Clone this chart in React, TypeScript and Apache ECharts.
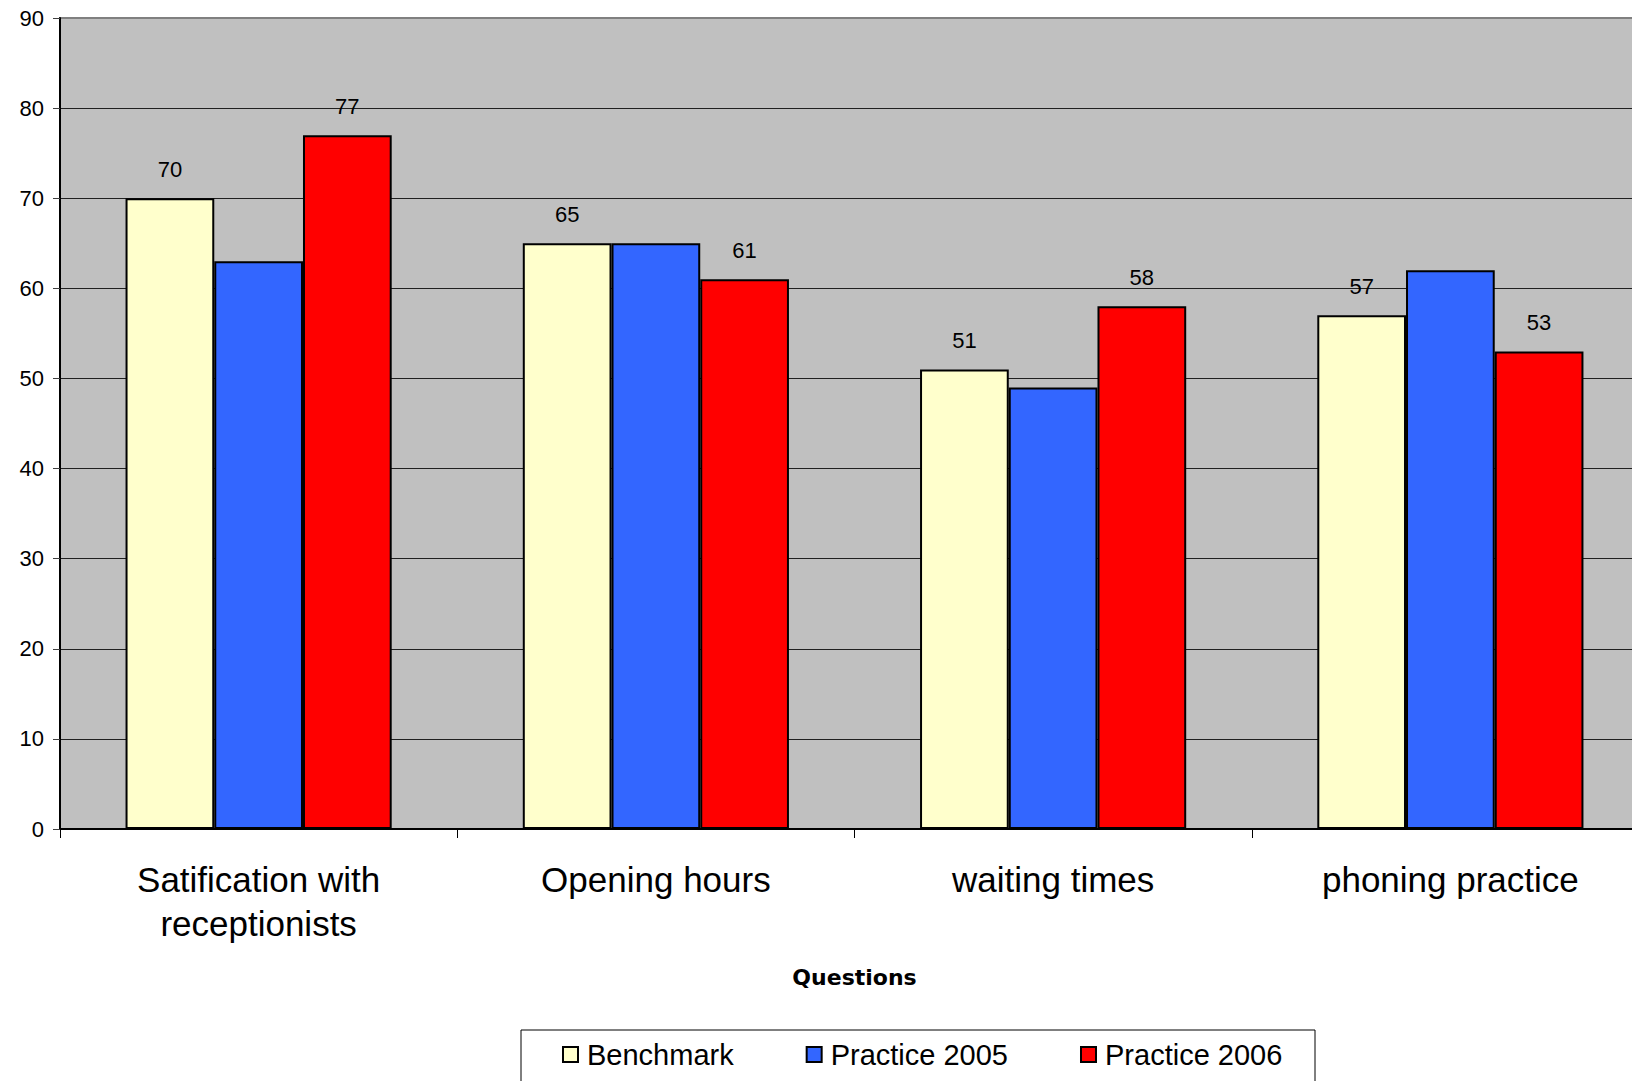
import React, { useEffect, useRef } from "react";
import * as echarts from "echarts";

const categories = ["Satification with\nreceptionists", "Opening hours", "waiting times", "phoning practice"];
const benchmark = [70, 65, 51, 57];
const practice2005 = [63, 65, 49, 62];
const practice2006 = [77, 61, 58, 53];
const seriesNames = ["Benchmark", "Practice 2005", "Practice 2006"];
const seriesColors = ["#FFFFCC", "#3366FF", "#FF0000"];
const yTicks = { min: 0, max: 90, interval: 10 };
const xAxisTitle = "Questions";

const FONT = "'Liberation Sans', Arial, sans-serif";

export default function App() {
  const ref = useRef<HTMLDivElement>(null);
  useEffect(() => {
    if (!ref.current) return;
    const chart = echarts.init(ref.current, null, { renderer: "svg" });
    const dataSets = [benchmark, practice2005, practice2006];
    const showLabel = [true, false, true];
    chart.setOption({
      animation: false,
      textStyle: { fontFamily: FONT },
      grid: {
        left: 60,
        top: 18,
        right: 0,
        bottom: 252,
        show: true,
        backgroundColor: "#C0C0C0",
        borderColor: "#808080",
        borderWidth: 2,
      },
      legend: {
        left: 557,
        top: 1035,
        itemWidth: 15,
        itemHeight: 15,
        itemGap: 72,
        icon: "rect",
        textStyle: { fontSize: 29, color: "#000", fontFamily: FONT, padding: [0, 0, 0, 4] },
        data: seriesNames,
      },
      graphic: [
        {
          type: "rect",
          shape: { x: 521, y: 1030, width: 794, height: 80 },
          style: { fill: "none", stroke: "#000", lineWidth: 1 },
          z: 0,
        },
      ],
      xAxis: {
        type: "category",
        data: categories,
        name: xAxisTitle,
        nameLocation: "middle",
        nameGap: 137,
        nameTextStyle: { fontSize: 22, fontWeight: "bold", color: "#000", fontFamily: "'DejaVu Sans', Verdana, sans-serif" },
        axisLine: { lineStyle: { color: "#000", width: 2 } },
        axisTick: { show: true, alignWithLabel: false, length: 9, lineStyle: { color: "#000", width: 1 } },
        axisLabel: {
          fontSize: 35,
          color: "#000",
          margin: 28,
          lineHeight: 44,
          interval: 0,
          fontFamily: FONT,
        },
      },
      yAxis: {
        type: "value",
        min: yTicks.min,
        max: yTicks.max,
        interval: yTicks.interval,
        axisLine: { show: true, lineStyle: { color: "#000", width: 2 } },
        axisTick: { show: true, length: 7, lineStyle: { color: "#404040", width: 1 } },
        axisLabel: { fontSize: 22, color: "#000", margin: 16, fontFamily: FONT },
        splitLine: { show: true, showMaxLine: false, lineStyle: { color: "#202020", width: 1 } },
      },
      series: dataSets.map((d, i) => ({
        name: seriesNames[i],
        type: "bar",
        data: d,
        barGap: "0%",
        barCategoryGap: "33%",
        itemStyle: { color: seriesColors[i], borderColor: "#000", borderWidth: 2 },
        label: {
          show: showLabel[i],
          position: "top",
          distance: 18,
          fontSize: 22,
          color: "#000",
          fontFamily: FONT,
        },
      })),
    });
    return () => chart.dispose();
  }, []);
  return (
    <div style={{ position: "absolute", left: 0, top: 0, width: 1632, height: 1081, overflow: "hidden", background: "#fff" }}>
      <div ref={ref} style={{ width: 1649, height: 1081 }} />
    </div>
  );
}
